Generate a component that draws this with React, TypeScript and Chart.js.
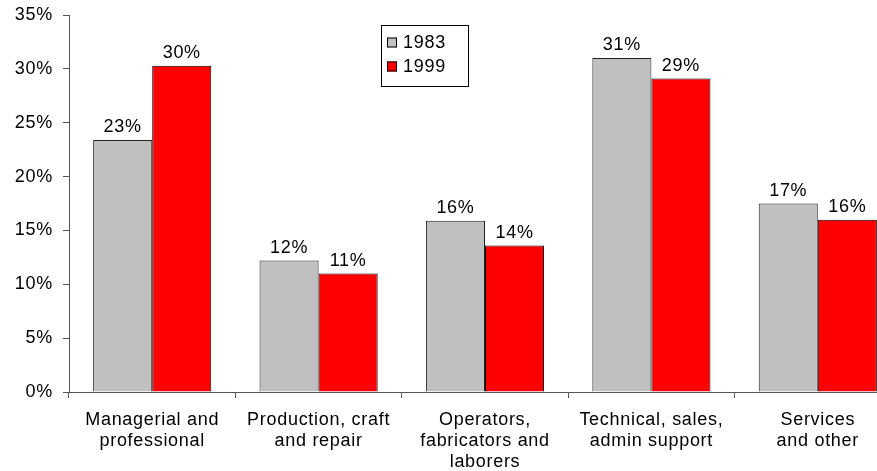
import React, { useEffect, useRef } from 'react';
import { Chart, registerables } from 'chart.js';
Chart.register(...registerables);

const categories: string[][] = [
  ['Managerial and', 'professional'],
  ['Production, craft', 'and repair'],
  ['Operators,', 'fabricators and', 'laborers'],
  ['Technical, sales,', 'admin support'],
  ['Services', 'and other'],
];
const seriesNames = ['1983', '1999'];
const values1983 = [23.4, 12.2, 15.9, 31.0, 17.5];
const values1999 = [30.3, 11.0, 13.6, 29.1, 16.0];
const labels1983 = ['23%', '12%', '16%', '31%', '17%'];
const labels1999 = ['30%', '11%', '14%', '29%', '16%'];
const seriesColors = ['#c0c0c0', '#ff0000'];
const yMax = 35;
const yStep = 5;

const FONT = "'Liberation Sans', Arial, sans-serif";
const FONT_SIZE = 18;
const SPACING = '0.7px';

const spacingPlugin = {
  id: 'spacing',
  beforeLayout(chart: any) {
    (chart.ctx as any).letterSpacing = SPACING;
  },
  beforeDraw(chart: any) {
    (chart.ctx as any).letterSpacing = SPACING;
  },
};

const valueLabelPlugin = {
  id: 'valueLabels',
  afterDatasetsDraw(chart: any) {
    const ctx = chart.ctx;
    const all = [labels1983, labels1999];
    ctx.save();
    ctx.letterSpacing = SPACING;
    ctx.font = `${FONT_SIZE}px ${FONT}`;
    ctx.fillStyle = '#000';
    ctx.textAlign = 'center';
    ctx.textBaseline = 'alphabetic';
    chart.data.datasets.forEach((ds: any, di: number) => {
      const meta = chart.getDatasetMeta(di);
      meta.data.forEach((bar: any, i: number) => {
        ctx.fillText(all[di][i], bar.x, bar.y - 8);
      });
    });
    ctx.restore();
  },
};

const boxLegendPlugin = {
  id: 'boxLegend',
  afterDraw(chart: any) {
    const ctx = chart.ctx;
    ctx.save();
    ctx.letterSpacing = SPACING;
    ctx.strokeStyle = '#000';
    ctx.lineWidth = 1;
    ctx.strokeRect(381.5, 25.5, 87, 61);
    ctx.font = `${FONT_SIZE}px ${FONT}`;
    ctx.textBaseline = 'middle';
    ctx.textAlign = 'left';
    seriesNames.forEach((name, i) => {
      const cy = 42.5 + i * 24;
      ctx.fillStyle = seriesColors[i];
      ctx.fillRect(387, cy - 5, 10, 10);
      ctx.strokeStyle = '#000';
      ctx.strokeRect(387.5, cy - 4.5, 9, 9);
      ctx.fillStyle = '#000';
      ctx.fillText(name, 403, cy + 1);
    });
    ctx.restore();
  },
};

export default function App() {
  const ref = useRef<HTMLCanvasElement>(null);
  useEffect(() => {
    if (!ref.current) return;
    const chart = new Chart(ref.current, {
      type: 'bar',
      data: {
        labels: categories,
        datasets: [
          {
            label: seriesNames[0],
            data: values1983,
            backgroundColor: seriesColors[0],
            borderColor: '#222',
            borderWidth: 1,
            categoryPercentage: 0.71,
            barPercentage: 1.0,
          },
          {
            label: seriesNames[1],
            data: values1999,
            backgroundColor: seriesColors[1],
            borderColor: '#000',
            borderWidth: 1,
            categoryPercentage: 0.71,
            barPercentage: 1.0,
          },
        ],
      },
      options: {
        responsive: false,
        animation: false,
        layout: { padding: { top: 15, right: 0, bottom: 0, left: 0 } },
        plugins: { legend: { display: false }, tooltip: { enabled: false } },
        scales: {
          x: {
            offset: true,
            afterFit: (s: any) => { s.height = 79; },
            grid: {
              offset: true,
              drawOnChartArea: false,
              drawTicks: true,
              tickLength: 6,
              color: '#555',
            },
            border: { display: true, color: '#555', width: 1 },
            ticks: {
              color: '#000',
              padding: 12,
              maxRotation: 0,
              autoSkip: false,
              font: { family: FONT, size: FONT_SIZE, lineHeight: 21 / FONT_SIZE },
            },
          },
          y: {
            min: 0,
            max: yMax,
            afterFit: (s: any) => { s.width = 69; s.paddingTop = 0; s.paddingBottom = 0; },
            grid: {
              drawOnChartArea: false,
              drawTicks: true,
              tickLength: 6,
              color: '#555',
            },
            border: { display: true, color: '#555', width: 1 },
            ticks: {
              stepSize: yStep,
              color: '#000',
              padding: 10,
              font: { family: FONT, size: FONT_SIZE },
              callback: (v: any) => `${v}%`,
            },
          },
        },
      },
      plugins: [spacingPlugin, valueLabelPlugin, boxLegendPlugin],
    });
    return () => chart.destroy();
  }, []);
  return (
    <div style={{ position: 'absolute', left: 0, top: 0, width: 877, height: 471, overflow: 'hidden', background: '#fff' }}>
      <canvas ref={ref} width={901} height={471} style={{ display: 'block' }} />
    </div>
  );
}
